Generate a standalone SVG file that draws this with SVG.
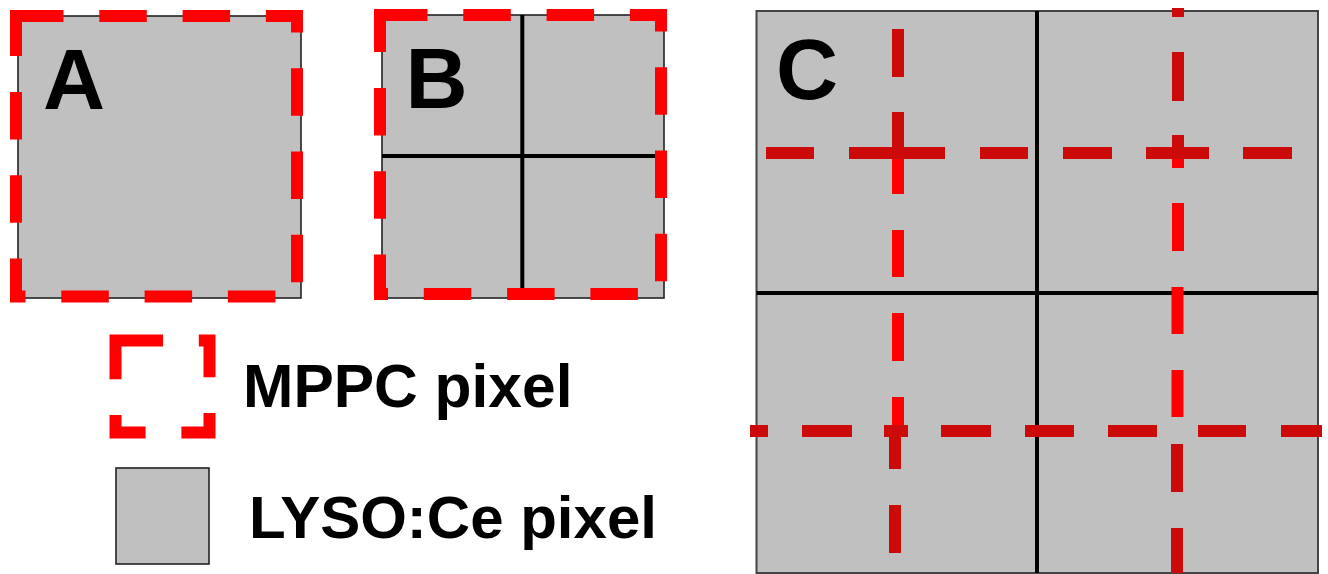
<svg xmlns="http://www.w3.org/2000/svg" width="1328" height="574" viewBox="0 0 1328 574">
  <style>
    .cell { fill: #C0C0C0; stroke: #222222; stroke-width: 1.6; }
    .grid { stroke: #000000; stroke-width: 4; fill: none; }
    .mppc { fill: none; stroke: #FF0000; stroke-width: 12; stroke-dasharray: 47.5 35.8; stroke-linejoin: miter; stroke-linecap: butt; }
    .lbl { font-family: "Liberation Sans", Arial, sans-serif; font-weight: bold; fill: #000000; }
    .dk { stroke: #CC0A0A; stroke-width: 12; fill: none; }
    .br { stroke: #FF0000; stroke-width: 12; fill: none; }
  </style>
  <rect x="0" y="0" width="1328" height="574" fill="#FFFFFF"/>

  <g id="panel-a">
    <rect class="cell" x="18" y="16" width="283" height="282"/>
    <text class="lbl" x="43" y="109" font-size="86">A</text>
    <rect class="mppc" x="16" y="16" width="281" height="280.5"/>
  </g>

  <g id="panel-b">
    <rect class="cell" x="382" y="15" width="282" height="283"/>
    <line class="grid" x1="522.3" y1="15" x2="522.3" y2="298" stroke-width="3"/>
    <line class="grid" x1="382" y1="156" x2="664" y2="156" stroke-width="3"/>
    <text class="lbl" x="405.5" y="108" font-size="86">B</text>
    <rect class="mppc" x="380" y="15" width="281" height="279"/>
  </g>

  <g id="panel-c">
    <rect x="756.5" y="11" width="561.5" height="562" fill="#C0C0C0" stroke="#444444" stroke-width="2"/>
    <line class="grid" x1="1037" y1="11" x2="1037" y2="573"/>
    <line class="grid" x1="756.5" y1="293" x2="1318" y2="293"/>
    <text class="lbl" x="776" y="99" font-size="86">C</text>
    <g id="panel-c-mppc-grid">
      <path class="br" d="M898 153V194M898 230V277M898 313V361M898 397V431"/>
      <path class="dk" d="M898 29V77M898 112V153M895 427V469M895 505V553"/>
      <path class="br" d="M1178 153V168M1178 203V251M1177.5 287V334M1177.5 370V417"/>
      <path class="dk" d="M1178 8V17M1178 52V101M1178 135V153M1177 444V492M1177 528V573"/>
      <path class="dk" d="M766 153H814M849 153H945M980 153H1028M1063 153H1112M1146 153H1209M1243 153H1292"/>
      <path class="dk" stroke-width="13" d="M750 431H768M802 431H852M884 431H908M941 431H991M1025 431H1074M1108 431H1157M1198 431H1246M1281 431H1322"/>
    </g>
  </g>

  <g id="legend-mppc">
    <rect class="mppc" x="115.5" y="340.5" width="94" height="92" stroke-width="11"/>
    <text class="lbl" x="243" y="407" font-size="60.5">MPPC pixel</text>
  </g>

  <g id="legend-lyso">
    <rect class="cell" x="116" y="468" width="93" height="96"/>
    <text class="lbl" x="249" y="538" font-size="60">LYSO:Ce pixel</text>
  </g>
</svg>
